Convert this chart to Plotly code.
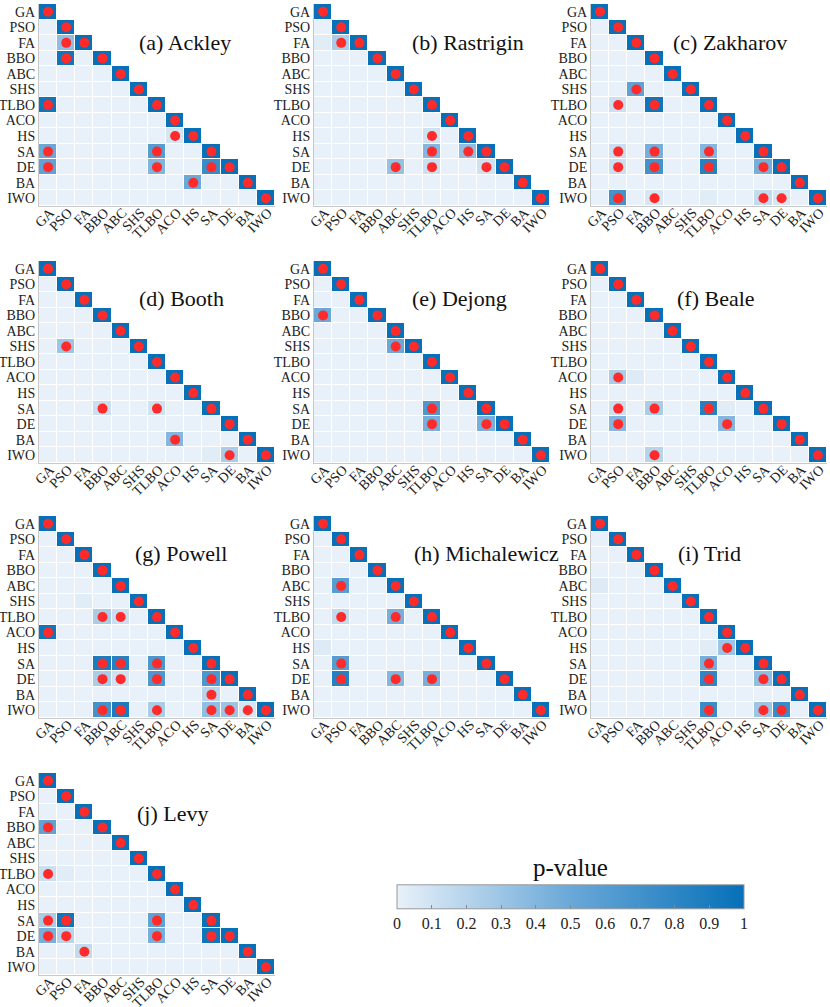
import numpy as np
import plotly.graph_objects as go

# algorithms (rows / columns of every matrix)
algos = ["GA", "PSO", "FA", "BBO", "ABC", "SHS", "TLBO", "ACO", "HS", "SA", "DE", "BA", "IWO"]

# p-values of the lower triangle (row, column, p); cells not listed are ~0, diagonal is 1
ackley = [("FA", "PSO", 0.35), ("BBO", "PSO", 0.95), ("TLBO", "GA", 0.95), ("HS", "ACO", 0.08),
          ("SA", "GA", 0.5), ("SA", "TLBO", 0.6), ("DE", "GA", 0.55), ("DE", "TLBO", 0.42),
          ("DE", "SA", 0.75), ("BA", "HS", 0.5)]
rastrigin = [("FA", "GA", 0.03), ("FA", "PSO", 0.25), ("HS", "TLBO", 0.1), ("SA", "TLBO", 0.4),
             ("SA", "HS", 0.35), ("DE", "ABC", 0.33), ("DE", "TLBO", 0.12), ("DE", "SA", 0.1)]
zakharov = [("SHS", "FA", 0.55), ("TLBO", "PSO", 0.12), ("TLBO", "BBO", 0.95), ("SA", "PSO", 0.12),
            ("SA", "BBO", 0.45), ("SA", "TLBO", 0.4), ("DE", "PSO", 0.12), ("DE", "BBO", 0.7),
            ("DE", "TLBO", 0.85), ("DE", "SA", 0.45), ("IWO", "PSO", 0.7), ("IWO", "BBO", 0.07),
            ("IWO", "TLBO", 0.03), ("IWO", "SA", 0.15), ("IWO", "DE", 0.08)]
booth = [("SHS", "PSO", 0.3), ("SA", "BBO", 0.12), ("SA", "TLBO", 0.1), ("BA", "ACO", 0.4),
         ("IWO", "SA", 0.03), ("IWO", "DE", 0.25)]
dejong = [("BBO", "GA", 0.5), ("SHS", "ABC", 0.5), ("SA", "TLBO", 0.65), ("DE", "TLBO", 0.45),
          ("DE", "SA", 0.45)]
beale = [("ACO", "PSO", 0.25), ("ACO", "FA", 0.04), ("SA", "PSO", 0.12), ("SA", "BBO", 0.25),
         ("SA", "TLBO", 0.85), ("SA", "ACO", 0.03), ("DE", "PSO", 0.4), ("DE", "ACO", 0.4),
         ("IWO", "BBO", 0.2)]
powell = [("SHS", "FA", 0.03), ("TLBO", "BBO", 0.25), ("TLBO", "ABC", 0.12), ("ACO", "GA", 0.95),
          ("SA", "BBO", 0.9), ("SA", "ABC", 0.85), ("SA", "TLBO", 0.65), ("DE", "BBO", 0.25),
          ("DE", "ABC", 0.1), ("DE", "TLBO", 0.65), ("DE", "SA", 0.65), ("BA", "SA", 0.2),
          ("IWO", "BBO", 0.7), ("IWO", "ABC", 0.9), ("IWO", "TLBO", 0.25), ("IWO", "SA", 0.35),
          ("IWO", "DE", 0.3), ("IWO", "BA", 0.08)]
michalewicz = [("ABC", "PSO", 0.6), ("TLBO", "PSO", 0.15), ("TLBO", "ABC", 0.45), ("HS", "GA", 0.04),
               ("SA", "PSO", 0.6), ("DE", "PSO", 0.85), ("DE", "ABC", 0.4), ("DE", "TLBO", 0.45)]
trid = [("ABC", "GA", 0.04), ("HS", "TLBO", 0.03), ("HS", "ACO", 0.3), ("SA", "TLBO", 0.45),
        ("DE", "TLBO", 0.8), ("DE", "SA", 0.35), ("IWO", "TLBO", 0.75), ("IWO", "SA", 0.3),
        ("IWO", "DE", 0.75)]
levy = [("BBO", "GA", 0.55), ("TLBO", "GA", 0.12), ("TLBO", "PSO", 0.03), ("SA", "GA", 0.25),
        ("SA", "PSO", 0.95), ("SA", "TLBO", 0.55), ("DE", "GA", 0.45), ("DE", "PSO", 0.2),
        ("DE", "TLBO", 0.45), ("DE", "SA", 0.95), ("BA", "FA", 0.15)]

titles = ["(a) Ackley", "(b) Rastrigin", "(c) Zakharov", "(d) Booth", "(e) Dejong",
          "(f) Beale", "(g) Powell", "(h) Michalewicz", "(i) Trid", "(j) Levy"]
datasets = [ackley, rastrigin, zakharov, booth, dejong, beale, powell, michalewicz, trid, levy]

W, H = 830, 1007
col_left = [39, 314, 591]
row_top = [4, 261, 516, 773]
pw, ph = 236, 202
# title position inside each panel (data coords of left edge / middle)
title_pos = [(4.9, 1.95), (4.8, 1.95), (3.9, 1.95), (4.9, 1.9), (4.8, 1.9),
             (4.1, 1.9), (4.7, 1.9), (4.9, 1.9), (4.2, 1.9), (4.8, 2.1)]

font = "Liberation Serif"
cscale = [[0, "#e8f1f9"], [0.5, "#6aa8d8"], [1, "#0670b8"]]
n = len(algos)
idx = {a: i for i, a in enumerate(algos)}

fig = go.Figure()
layout = {}
for k, (title, data) in enumerate(zip(titles, datasets)):
    z = np.full((n, n), np.nan)
    for i in range(n):
        z[i, :i] = 0.0
        z[i, i] = 1.0
    for r, c, p in data:
        z[idx[r], idx[c]] = p

    s = "" if k == 0 else str(k + 1)
    fig.add_trace(go.Heatmap(z=z, x=list(range(n)), y=list(range(n)), coloraxis="coloraxis",
                             xgap=1, ygap=1, hoverinfo="skip", xaxis="x" + s, yaxis="y" + s))
    ii, jj = np.where(z > 0.05)
    fig.add_trace(go.Scatter(x=jj, y=ii, mode="markers", xaxis="x" + s, yaxis="y" + s,
                             marker=dict(size=10, color="#ff2a2a"), showlegend=False,
                             hoverinfo="skip"))

    r, c = divmod(k, 3)
    x0 = col_left[c]
    y0 = row_top[r]
    layout["xaxis" + s] = dict(domain=[x0 / W, (x0 + pw) / W], range=[-0.5, n - 0.5],
                               tickvals=list(range(n)), ticktext=algos, tickangle=-45,
                               showgrid=False, zeroline=False, ticks="", anchor="y" + s,
                               showline=True, linecolor="#c8c8c8", linewidth=1,
                               automargin=False, ticklabelstandoff=-8, ticklabelshift=2,
                               tickfont=dict(family=font, size=14, color="#222"))
    layout["yaxis" + s] = dict(domain=[1 - (y0 + ph) / H, 1 - y0 / H], range=[n - 0.5, -0.5],
                               tickvals=list(range(n)), ticktext=algos, automargin=False,
                               showline=True, linecolor="#c8c8c8", linewidth=1,
                               showgrid=False, zeroline=False, ticks="", anchor="x" + s,
                               tickfont=dict(family=font, size=14, color="#222"))
    tx, ty = title_pos[k]
    fig.add_annotation(x=tx, y=ty, xref="x" + s, yref="y" + s, text=title, showarrow=False,
                       xanchor="left", yanchor="middle",
                       font=dict(family=font, size=22, color="#111"))

# colorbar title as a free text
fig.add_annotation(x=570 / W, y=1 - 867 / H, xref="paper", yref="paper",
                   text="p-value", showarrow=False, xanchor="center", yanchor="middle",
                   font=dict(family=font, size=25, color="#111"))

fig.update_layout(**layout)
fig.update_layout(
    width=W, height=H, margin=dict(l=0, r=0, t=0, b=0, autoexpand=False),
    plot_bgcolor="white", paper_bgcolor="white", showlegend=False,
    coloraxis=dict(colorscale=cscale, cmin=0, cmax=1,
                   colorbar=dict(orientation="h", x=570.5 / W, xanchor="center",
                                 y=(H - 937) / H, yanchor="bottom", len=347 / W,
                                 lenmode="fraction", thickness=24, thicknessmode="pixels",
                                 xpad=0, ypad=0, outlinewidth=1, outlinecolor="#999",
                                 tickvals=[0, 0.1, 0.2, 0.3, 0.4, 0.5, 0.6, 0.7, 0.8, 0.9, 1],
                                 ticktext=["0", "0.1", "0.2", "0.3", "0.4", "0.5", "0.6", "0.7", "0.8", "0.9", "1"],
                                 ticks="inside", ticklen=4, tickcolor="#888",
                                 tickfont=dict(family=font, size=16, color="#222"))),
)

# drop the default 8px page margin so the figure sits at the window corner
fig.write_html("out.html", config={"displayModeBar": False},
               post_script="document.body.style.margin='0';")
